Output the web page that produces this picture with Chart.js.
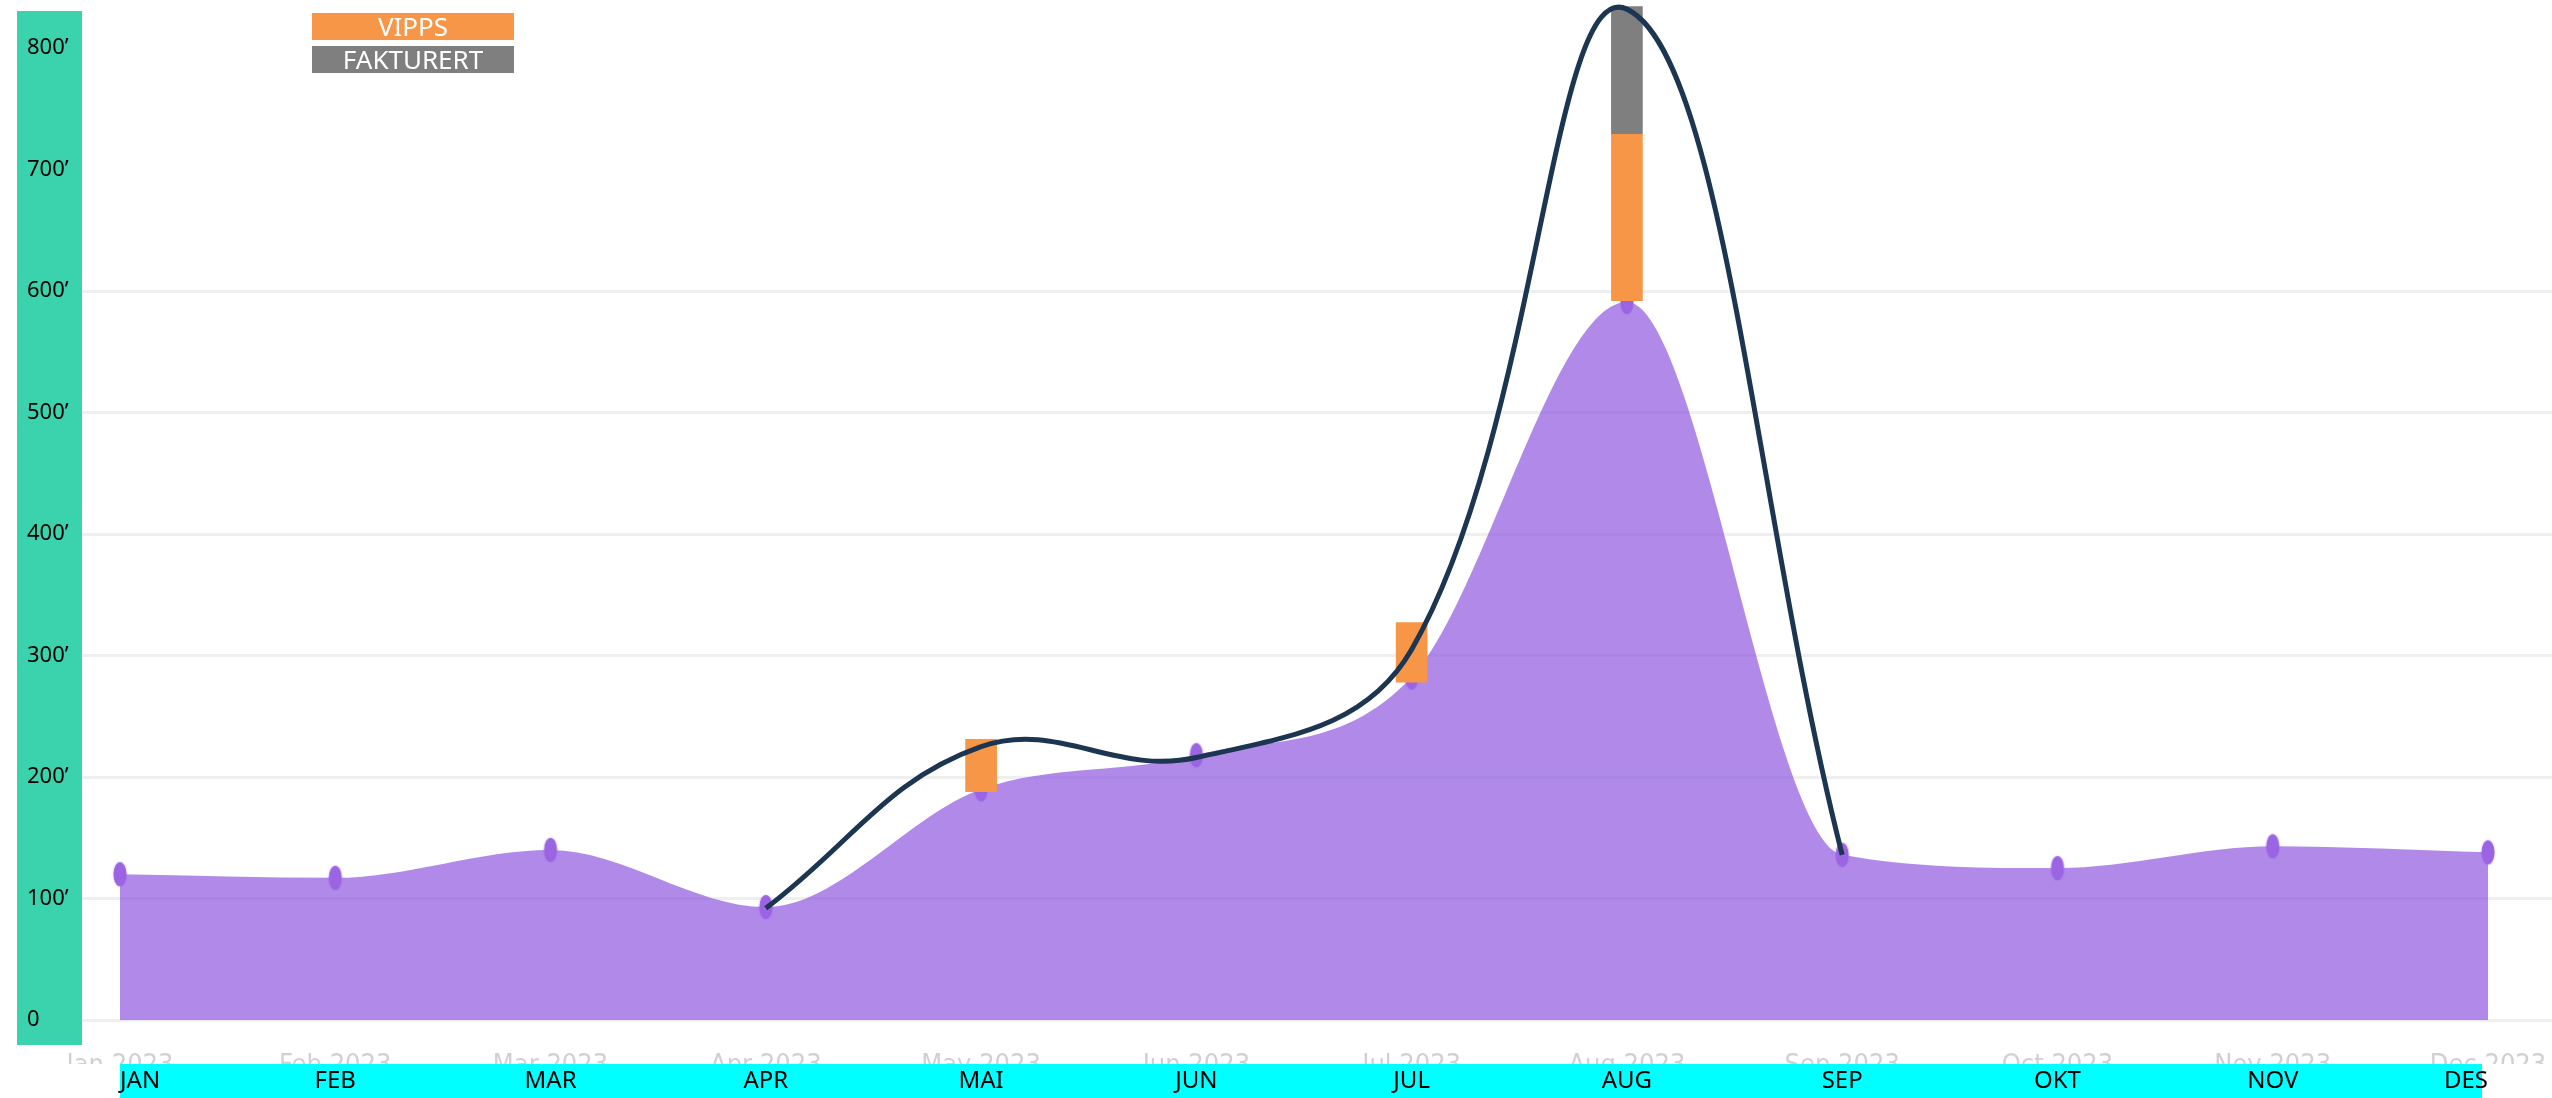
<!DOCTYPE html>
<html>
<head>
<meta charset="utf-8">
<script src="https://cdn.jsdelivr.net/npm/chart.js@4.4.1/dist/chart.umd.min.js"></script>
<style>
  html, body { margin: 0; padding: 0; background: #fff; }
  #wrap { position: relative; width: 2552px; height: 1098px; }
  #legend { position: absolute; left: 312px; top: 13px; width: 202px; }
  .lg { height: 27px; line-height: 27px; margin-bottom: 6px; color: #fff; font-family: "Noto Sans", sans-serif; font-size: 26px; text-align: center; }
</style>
</head>
<body>
<div id="wrap">
  <canvas id="salesChart" width="2552" height="1098"></canvas>
  <div id="legend"></div>
</div>
<script>
// --- data ---
const months = ["JAN", "FEB", "MAR", "APR", "MAI", "JUN", "JUL", "AUG", "SEP", "OKT", "NOV", "DES"];
const monthsFaded = ["Jan 2023", "Feb 2023", "Mar 2023", "Apr 2023", "May 2023", "Jun 2023", "Jul 2023", "Aug 2023", "Sep 2023", "Oct 2023", "Nov 2023", "Dec 2023"];
const totalSales = [120, 117, 140, 93, 190, 218, 282, 591, 136, 125, 143, 138];
const trendLine = [null, null, null, 92, 225, 216, 305, 832, 136, null, null, null];
const vippsRange = [null, null, null, null, [188, 231], null, [278, 327], [592, 729], null, null, null, null];
const fakturertRange = [null, null, null, null, null, null, null, [729, 834], null, null, null, null];
const yTickLabels = ["0", "100’", "200’", "300’", "400’", "500’", "600’", "700’", "800’"];

const GRID = "#eef0f0";

// purple marker, a bit taller than wide like in the picture
function ellipseMarker() {
  const c = document.createElement("canvas");
  c.width = 18; c.height = 30;
  const g = c.getContext("2d");
  g.shadowColor = "rgba(154,100,226,0.6)";
  g.shadowBlur = 2;
  g.fillStyle = "#9a64e2";
  g.beginPath();
  g.ellipse(9, 15, 6.5, 12, 0, 0, Math.PI * 2);
  g.fill();
  return c;
}

// green band behind y labels, cyan band behind month labels
const bands = {
  id: "bands",
  beforeDatasetsDraw(chart) {
    const { ctx, chartArea } = chart;
    const x = chart.scales.x;
    ctx.save();
    ctx.fillStyle = "#3bd3ad";
    ctx.fillRect(17, 11, 65, 1034);
    ctx.fillStyle = "#00ffff";
    ctx.fillRect(chartArea.left, x.top, chartArea.right - chartArea.left - 6, x.bottom - x.top);
    ctx.restore();
  }
};

// labels may hang outside the plot, don't let them shrink it
const noSidePad = s => { s.paddingLeft = 0; s.paddingRight = 0; };

const chart = new Chart(document.getElementById("salesChart"), {
  type: "line",
  data: {
    labels: months,
    datasets: [
      { label: "Trend", data: trendLine, borderColor: "#1c3551", borderWidth: 5, tension: 0.4, pointRadius: 0, fill: false, clip: false, order: 0 },
      { type: "bar", label: "VIPPS", data: vippsRange, backgroundColor: "#f79646", barThickness: 31, grouped: false, clip: false, order: 1 },
      { type: "bar", label: "FAKTURERT", data: fakturertRange, backgroundColor: "#7f7f7f", barThickness: 31, grouped: false, clip: false, order: 1 },
      { label: "Total", data: totalSales, fill: "origin", backgroundColor: "rgba(146,92,224,0.72)", borderColor: "rgba(0,0,0,0)",
        cubicInterpolationMode: "monotone", pointStyle: ellipseMarker(), pointRadius: 10, order: 2 }
    ]
  },
  options: {
    responsive: false,
    devicePixelRatio: 1,
    animation: false,
    layout: { padding: { left: 27, right: 0, top: 48, bottom: 0 } },
    plugins: { legend: { display: false }, tooltip: { enabled: false } },
    scales: {
      x2: {
        type: "category", labels: monthsFaded, position: "bottom", offset: false, weight: 0,
        border: { display: false },
        grid: { display: false, drawTicks: false },
        ticks: { autoSkip: false, maxRotation: 0, padding: 30, color: "#d0d0d0", font: { family: "\"Liberation Sans Narrow\", \"DejaVu Sans Condensed\", sans-serif", size: 27 } },
        afterFit: s => { s.height = 44; noSidePad(s); }
      },
      x: {
        type: "category", offset: false, weight: 1,
        border: { display: false },
        grid: { display: false, drawTicks: false },
        ticks: { z: 1, align: "inner", autoSkip: false, maxRotation: 0, padding: 3, color: "#000", font: { family: "Noto Sans", size: 24 } },
        afterFit: s => { s.height = 34; noSidePad(s); }
      },
      y: {
        min: 0, max: 800,
        border: { display: false },
        grid: { color: c => (c.tick && c.tick.value <= 600 ? GRID : "rgba(0,0,0,0)"), lineWidth: 3, tickLength: 100 },
        ticks: { stepSize: 100, z: 1, crossAlign: "far", padding: 0, color: "#000", font: { family: "Noto Sans", size: 22 },
          callback: (v, i) => yTickLabels[i] },
        afterFit: s => { s.width = 93; }
      },
      yr: {
        position: "right", min: 0, max: 800,
        border: { display: false },
        grid: { drawOnChartArea: false, color: c => (c.tick && c.tick.value <= 600 ? GRID : "rgba(0,0,0,0)"), lineWidth: 3, tickLength: 64 },
        ticks: { display: false, stepSize: 100 },
        afterFit: s => { s.width = 64; }
      }
    }
  },
  plugins: [bands]
});

// legend boxes with the label inside
const legend = document.getElementById("legend");
chart.data.datasets.filter(d => d.type === "bar").forEach(d => {
  const el = document.createElement("div");
  el.className = "lg";
  el.style.background = d.backgroundColor;
  el.textContent = d.label;
  legend.appendChild(el);
});
</script>
</body>
</html>
